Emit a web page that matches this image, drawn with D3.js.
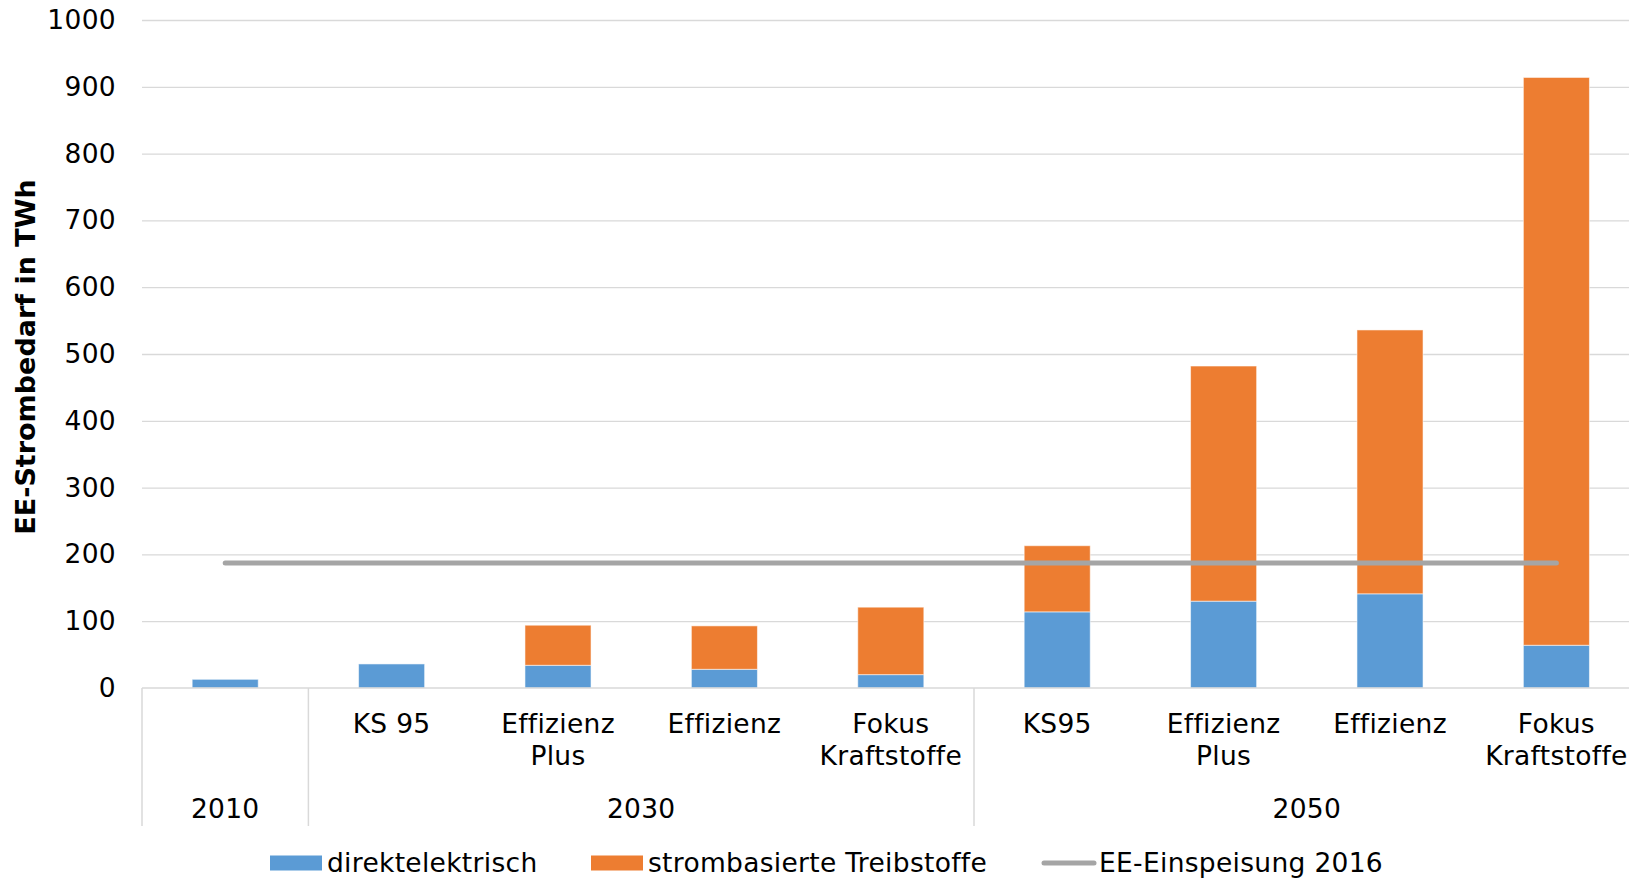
<!DOCTYPE html>
<html>
<head>
<meta charset="utf-8">
<script src="https://cdn.jsdelivr.net/npm/d3@7"></script>
<style>
  html, body { margin: 0; padding: 0; background: #fff; }
  svg { display: block; font-family: "DejaVu Sans", Verdana, sans-serif; }
</style>
</head>
<body>
<svg id="chart" width="1629" height="878"></svg>
<script>
// ---- data ----
const categoryIds = ["2010", "2030-KS95", "2030-EP", "2030-E", "2030-FK", "2050-KS95", "2050-EP", "2050-E", "2050-FK"];
const categoryLabels = [[""], ["KS 95"], ["Effizienz", "Plus"], ["Effizienz"], ["Fokus", "Kraftstoffe"], ["KS95"], ["Effizienz", "Plus"], ["Effizienz"], ["Fokus", "Kraftstoffe"]];
const groups = ["2010", "2030", "2050"];
const groupStart = [0, 1, 5];
const groupCount = [1, 4, 4];
const direktelektrisch = [13, 36, 34, 28, 20, 114, 130, 141, 64];
const strombasiert = [0, 0, 60, 65, 101, 99, 352, 395, 850];
const eeEinspeisung2016 = 187;
const yTicks = [0, 100, 200, 300, 400, 500, 600, 700, 800, 900, 1000];
const seriesNames = ["direktelektrisch", "strombasierte Treibstoffe", "EE-Einspeisung 2016"];
const yTitle = "EE-Strombedarf in TWh";

// ---- layout ----
const svg = d3.select("#chart");
const plotLeft = 142, plotTop = 20, plotBottom = 688;
const step = 166.4;
const plotRight = plotLeft + step * categoryIds.length;
const colors = { blue: "#5B9BD5", orange: "#ED7D31", gray: "#A5A5A5", grid: "#D9D9D9" };
const fs = 26.5;
const ls = 0.3;

const y = d3.scaleLinear().domain([0, 1000]).range([plotBottom, plotTop]);
const x = d3.scaleBand().domain(categoryIds).range([plotLeft, plotRight]).paddingInner(0.603).paddingOuter(0.3015);
const xBand = d3.scaleBand().domain(categoryIds).range([plotLeft, plotRight]).padding(0);

// gridlines
const grid = svg.append("g").attr("transform", `translate(${plotLeft},0)`)
  .call(d3.axisLeft(y).tickValues(yTicks.filter(d => d > 0)).tickSize(-(plotRight - plotLeft)).tickFormat(""));
grid.select(".domain").remove();
grid.selectAll(".tick line").attr("stroke", colors.grid).attr("stroke-width", 1.3);

// y tick labels
const yAxis = svg.append("g").attr("transform", `translate(${plotLeft},0)`)
  .call(d3.axisLeft(y).tickValues(yTicks).tickSize(0).tickPadding(26).tickFormat(d3.format("d")));
yAxis.select(".domain").remove();
yAxis.selectAll("text").attr("font-size", fs).attr("letter-spacing", ls).attr("fill", "#000")
  .attr("font-family", "DejaVu Sans, Verdana, sans-serif");

// y title
svg.append("text")
  .attr("transform", `translate(35,${(plotTop + plotBottom) / 2 + 3}) rotate(-90)`)
  .attr("text-anchor", "middle")
  .attr("font-size", 27).attr("font-weight", "bold").attr("fill", "#000")
  .text(yTitle);

// stacked bars
const rows = categoryIds.map((id, i) => ({ id, direkt: direktelektrisch[i], strom: strombasiert[i] }));
const stack = d3.stack().keys(["direkt", "strom"])(rows);
const fillFor = { direkt: colors.blue, strom: colors.orange };
svg.append("g").selectAll("g").data(stack).join("g")
  .attr("fill", d => fillFor[d.key])
  .selectAll("rect").data(d => d.filter(p => p[1] - p[0] > 0)).join("rect")
  .attr("x", d => x(d.data.id))
  .attr("width", x.bandwidth())
  .attr("y", d => y(d[1]))
  .attr("height", d => y(d[0]) - y(d[1]))
  .attr("stroke", "#fff").attr("stroke-opacity", 0.55).attr("stroke-width", 1);

// x axis line
svg.append("line").attr("x1", plotLeft).attr("x2", plotRight).attr("y1", y(0)).attr("y2", y(0))
  .attr("stroke", colors.grid).attr("stroke-width", 1.5);

// group separators
const sepBottom = 826;
const sepIdx = [0, 1, 5, 9];
svg.append("g").selectAll("line").data(sepIdx).join("line")
  .attr("x1", i => i < categoryIds.length ? xBand(categoryIds[i]) : plotRight)
  .attr("x2", i => i < categoryIds.length ? xBand(categoryIds[i]) : plotRight)
  .attr("y1", y(0)).attr("y2", sepBottom)
  .attr("stroke", colors.grid).attr("stroke-width", 1.5);

// category labels
const cl = svg.append("g").attr("font-size", fs).attr("letter-spacing", ls).attr("text-anchor", "middle").attr("fill", "#000");
categoryIds.forEach((id, i) => {
  const cx = xBand(id) + xBand.bandwidth() / 2;
  const t = cl.append("text").attr("x", cx).attr("y", 733);
  categoryLabels[i].forEach((line, j) => {
    t.append("tspan").attr("x", cx).attr("dy", j === 0 ? 0 : 32).text(line);
  });
});

// group labels
svg.append("g").attr("font-size", fs).attr("letter-spacing", ls).attr("text-anchor", "middle").attr("fill", "#000")
  .selectAll("text").data(groups).join("text")
  .attr("x", (g, i) => xBand(categoryIds[groupStart[i]]) + xBand.step() * groupCount[i] / 2)
  .attr("y", 818)
  .text(g => g);

// EE line
const lineData = [categoryIds[0], categoryIds[categoryIds.length - 1]].map(id => ({ id, v: eeEinspeisung2016 }));
svg.append("path")
  .datum(lineData)
  .attr("d", d3.line().x(d => x(d.id) + x.bandwidth() / 2).y(d => y(d.v)))
  .attr("fill", "none").attr("stroke", colors.gray).attr("stroke-width", 5).attr("stroke-linecap", "round");

// legend
const legend = svg.append("g").attr("font-size", fs).attr("letter-spacing", ls).attr("fill", "#000");
const legendItems = [
  { name: seriesNames[0], type: "rect", color: colors.blue, x: 270 },
  { name: seriesNames[1], type: "rect", color: colors.orange, x: 591 },
  { name: seriesNames[2], type: "line", color: colors.gray, x: 1042 }
];
legendItems.forEach(it => {
  if (it.type === "rect") {
    legend.append("rect").attr("x", it.x).attr("y", 855.5).attr("width", 52).attr("height", 15).attr("fill", it.color);
  } else {
    legend.append("line").attr("x1", it.x + 2).attr("x2", it.x + 52).attr("y1", 863).attr("y2", 863)
      .attr("stroke", it.color).attr("stroke-width", 5).attr("stroke-linecap", "round");
  }
  legend.append("text").attr("x", it.x + 57).attr("y", 872).text(it.name);
});
</script>
</body>
</html>
